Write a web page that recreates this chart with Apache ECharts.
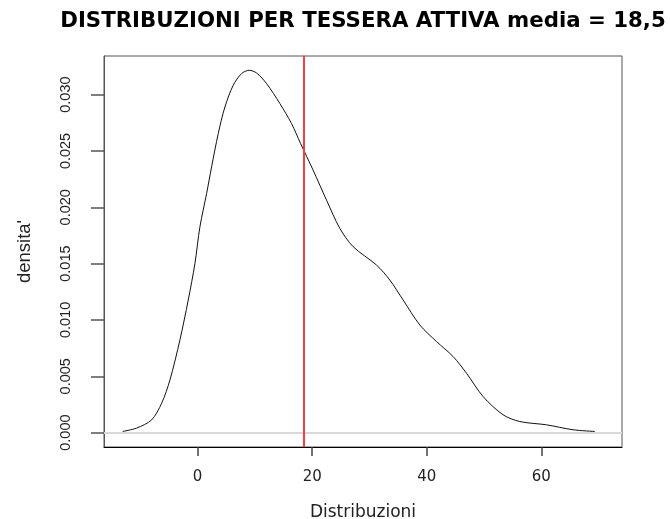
<!DOCTYPE html>
<html>
<head>
<meta charset="utf-8">
<script src="https://cdn.jsdelivr.net/npm/echarts@6/dist/echarts.min.js"></script>
<style>
  html, body { margin: 0; padding: 0; background: #fff; }
  #chart { width: 670px; height: 519px; }
</style>
</head>
<body>
<div id="chart"></div>
<script>
// Kernel density estimate of "distribuzioni" per active card
const densX = [-13.09, -10.65, -8.03, -6.28, -4.83, -3.09, -1.64, -0.47, 0.40, 1.57,
  2.44, 3.60, 4.76, 6.21, 7.68, 9.01, 10.30, 12.04, 14.36, 16.40,
  17.98, 20.17, 22.51, 24.83, 27.16, 31.24, 33.56, 35.88, 38.80, 41.71,
  44.61, 46.95, 49.84, 53.33, 56.25, 60.91, 65.55, 69.34];
const densY = [0.0001, 0.0004, 0.00113, 0.00261, 0.00468, 0.00823, 0.01177, 0.01502, 0.01827, 0.02123,
  0.02359, 0.02655, 0.02890, 0.03083, 0.03187, 0.03216, 0.03192, 0.03098, 0.02921, 0.02743,
  0.02566, 0.02329, 0.02063, 0.01813, 0.01650, 0.01487, 0.01354, 0.01177, 0.00955, 0.00808,
  0.00675, 0.00527, 0.00320, 0.00158, 0.00098, 0.00069, 0.00025, 0.0001];

// Axis ticks
const xTicks = [0, 20, 40, 60];
const yTicks = [0, 0.005, 0.010, 0.015, 0.020, 0.025, 0.030];

// Mean value, marked by the vertical red line
const media = 18.5;

const titleText = 'DISTRIBUZIONI PER TESSERA ATTIVA media = ' + String(media).replace('.', ',');

const X_MIN = -16.35, X_MAX = 74.1;
const Y_MIN = -0.00128, Y_MAX = 0.03343;

const chart = echarts.init(document.getElementById('chart'));

chart.setOption({
  animation: false,
  backgroundColor: '#ffffff',
  title: {
    text: titleText,
    left: 358,
    top: 6,
    textAlign: 'center',
    textStyle: {
      fontFamily: 'DejaVu Sans',
      fontWeight: 'bold',
      fontSize: 21.3,
      color: '#000'
    }
  },
  grid: {
    left: 104,
    right: 48,
    top: 56,
    bottom: 72,
    outerBoundsMode: 'none',
    show: true,
    borderColor: '#555'
  },
  xAxis: {
    type: 'value',
    min: X_MIN,
    max: X_MAX,
    name: 'Distribuzioni',
    nameLocation: 'middle',
    nameGap: 57,
    nameTextStyle: { fontFamily: 'DejaVu Sans', fontSize: 17, color: '#222' },
    axisLine: { show: true, onZero: false, lineStyle: { color: '#000' } },
    axisTick: { show: true, length: 9, customValues: xTicks, lineStyle: { color: '#444', width: 1.5 } },
    axisLabel: {
      customValues: xTicks,
      margin: 23,
      fontFamily: 'DejaVu Sans',
      fontSize: 15,
      color: '#222'
    },
    splitLine: { show: false }
  },
  yAxis: {
    type: 'value',
    min: Y_MIN,
    max: Y_MAX,
    name: "densita'",
    nameLocation: 'middle',
    nameRotate: 90,
    nameGap: 70,
    nameTextStyle: { fontFamily: 'Liberation Sans', fontSize: 18.5, color: '#222' },
    axisLine: { show: true, onZero: false, lineStyle: { color: '#555' } },
    axisTick: { show: true, length: 13, customValues: yTicks, lineStyle: { color: '#555', width: 1.5 } },
    axisLabel: {
      customValues: yTicks,
      rotate: 90,
      margin: 31,
      fontFamily: 'Liberation Sans',
      fontSize: 14.5,
      color: '#222',
      formatter: v => v.toFixed(3)
    },
    splitLine: { show: false }
  },
  series: [{
    type: 'line',
    data: densX.map((x, i) => [x, densY[i]]),
    showSymbol: false,
    smooth: 0.3,
    lineStyle: { color: '#111', width: 1 },
    markLine: {
      silent: true,
      symbol: 'none',
      label: { show: false },
      data: [
        { yAxis: 0, lineStyle: { color: '#d9d9d9', width: 2, type: 'solid' } },
        { xAxis: media, lineStyle: { color: '#ff3b3b', width: 2, type: 'solid' } }
      ]
    }
  }]
});
</script>
</body>
</html>
